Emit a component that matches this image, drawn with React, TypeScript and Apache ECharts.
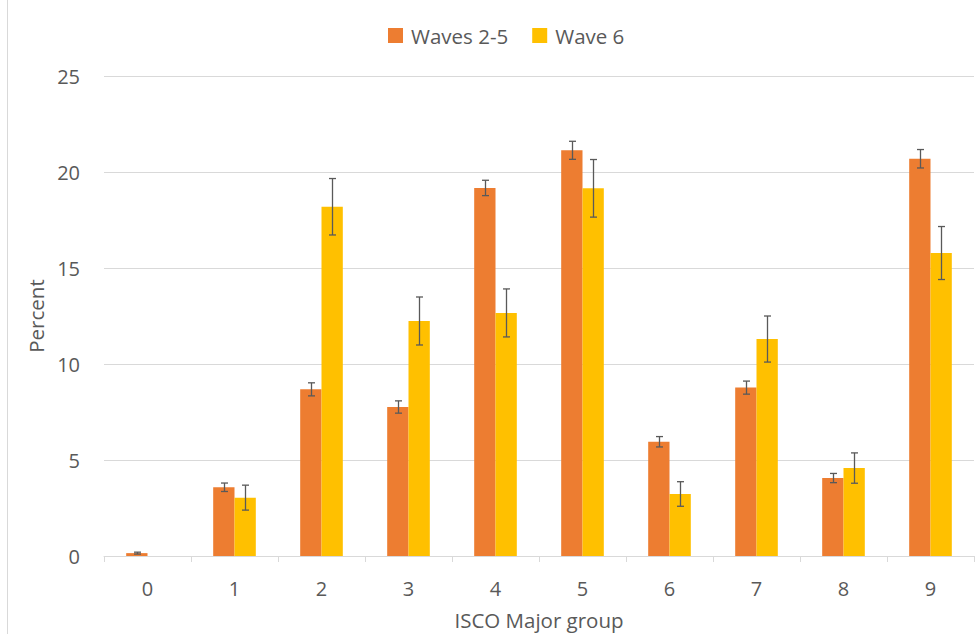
import React, { useEffect, useRef } from "react";
import * as echarts from "echarts";

const categories = ["0", "1", "2", "3", "4", "5", "6", "7", "8", "9"];
const waves25 = [0.15, 3.58, 8.68, 7.76, 19.17, 21.13, 5.95, 8.77, 4.06, 20.69];
const waves25Err = [0.05, 0.22, 0.34, 0.32, 0.4, 0.47, 0.27, 0.34, 0.24, 0.48];
const wave6 = [0, 3.04, 18.19, 12.24, 12.66, 19.15, 3.23, 11.3, 4.58, 15.78];
const wave6Err = [0, 0.65, 1.47, 1.25, 1.25, 1.5, 0.64, 1.2, 0.79, 1.38];
const yTicks = [0, 5, 10, 15, 20, 25];

const ORANGE = "#ED7D31";
const YELLOW = "#FFC000";
const TEXT = "#595959";
const FONT = "'Open Sans', sans-serif";

export default function App() {
  const ref = useRef<HTMLDivElement>(null);
  useEffect(() => {
    if (!ref.current) return;
    const chart = echarts.init(ref.current, undefined, { renderer: "svg" });
    const errData: number[][] = [];
    waves25.forEach((v, i) => {
      errData.push([i, v - waves25Err[i], v + waves25Err[i], 0]);
    });
    wave6.forEach((v, i) => {
      if (v > 0) errData.push([i, v - wave6Err[i], v + wave6Err[i], 1]);
    });
    chart.setOption({
      animation: false,
      textStyle: { fontFamily: FONT },
      legend: {
        top: 20,
        left: 383,
        itemWidth: 15,
        itemHeight: 15,
        itemGap: 24,
        icon: "rect",
        textStyle: { color: TEXT, fontSize: 20.5, fontFamily: FONT, padding: [0, 0, 0, 3] },
        data: ["Waves 2-5", "Wave 6"],
      },
      graphic: [
        {
          type: "line",
          shape: { x1: 7.5, y1: 0, x2: 7.5, y2: 634 },
          style: { stroke: "#d9d9d9", lineWidth: 1 },
        },
      ],
      grid: { left: 104, right: 4, top: 76, bottom: 78, outerBoundsMode: "none", containLabel: false },
      xAxis: {
        type: "category",
        data: categories,
        name: "ISCO Major group",
        nameLocation: "middle",
        nameGap: 53,
        nameTextStyle: { color: TEXT, fontSize: 20.5, fontFamily: FONT },
        axisLine: { lineStyle: { color: "#d9d9d9" } },
        axisTick: { show: true, length: 6, lineStyle: { color: "#d9d9d9" } },
        axisLabel: { color: TEXT, fontSize: 20, margin: 22, fontFamily: FONT },
      },
      yAxis: {
        type: "value",
        min: 0,
        max: 25,
        interval: 5,
        name: "Percent",
        nameLocation: "middle",
        nameGap: 56,
        nameTextStyle: { color: TEXT, fontSize: 20.5, fontFamily: FONT },
        axisLine: { show: false },
        axisTick: { show: false },
        axisLabel: {
          color: TEXT,
          fontSize: 20,
          margin: 24,
          fontFamily: FONT,
          formatter: (v: number) => (yTicks.includes(v) ? String(v) : ""),
        },
        splitLine: { lineStyle: { color: "#d9d9d9" } },
      },
      series: [
        {
          name: "Waves 2-5",
          type: "bar",
          data: waves25,
          itemStyle: { color: ORANGE },
          barGap: "0%",
          barCategoryGap: "51%",
        },
        {
          name: "Wave 6",
          type: "bar",
          data: wave6,
          itemStyle: { color: YELLOW },
          barGap: "0%",
          barCategoryGap: "51%",
        },
        {
          type: "custom",
          data: errData,
          z: 10,
          encode: { x: 0, y: [1, 2] },
          renderItem: (params: any, api: any) => {
            const idx = api.value(0);
            const lo = api.coord([idx, api.value(1)]);
            const hi = api.coord([idx, api.value(2)]);
            const band = api.size([1, 0])[0];
            const barW = (band * 0.49) / 2;
            const off = api.value(3) === 0 ? -barW / 2 : barW / 2;
            const x = Math.round(lo[0] + off) + 0.5;
            const cap = 3.5;
            const style = { stroke: "#595959", lineWidth: 1.3 };
            return {
              type: "group",
              children: [
                { type: "line", shape: { x1: x, y1: lo[1], x2: x, y2: hi[1] }, style },
                { type: "line", shape: { x1: x - cap, y1: lo[1], x2: x + cap, y2: lo[1] }, style },
                { type: "line", shape: { x1: x - cap, y1: hi[1], x2: x + cap, y2: hi[1] }, style },
              ],
            };
          },
        },
      ],
    });
    return () => chart.dispose();
  }, []);
  return (
    <div
      ref={ref}
      style={{ position: "fixed", left: 0, top: 0, width: 978, height: 634, background: "#fff" }}
    />
  );
}
